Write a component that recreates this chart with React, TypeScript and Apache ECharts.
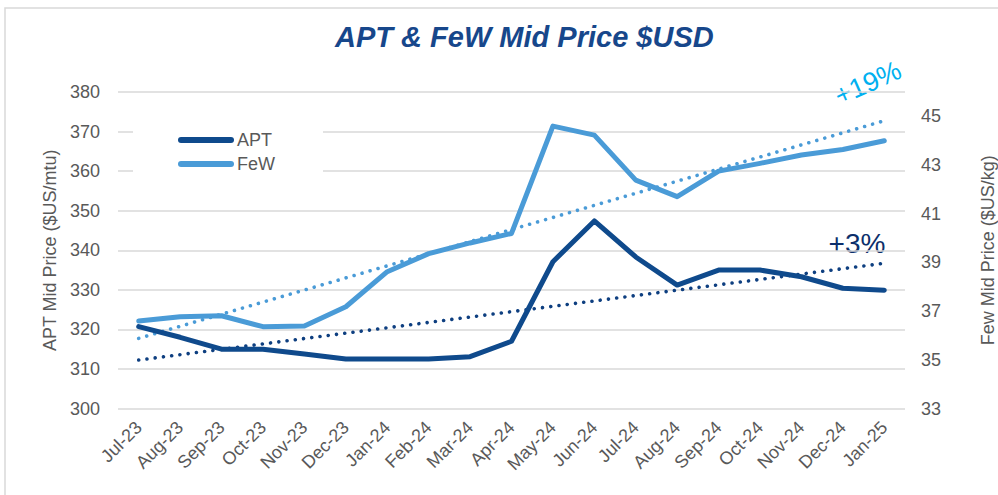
import React, { useEffect, useRef } from "react";
import * as echarts from "echarts";

const months = [
  "Jul-23", "Aug-23", "Sep-23", "Oct-23", "Nov-23", "Dec-23", "Jan-24", "Feb-24", "Mar-24", "Apr-24",
  "May-24", "Jun-24", "Jul-24", "Aug-24", "Sep-24", "Oct-24", "Nov-24", "Dec-24", "Jan-25",
];
const aptValues = [
  320.7, 318.0, 315.0, 315.0, 313.8, 312.5, 312.5, 312.5, 313.1, 317.0,
  337.1, 347.4, 338.3, 331.2, 335.0, 335.0, 333.3, 330.4, 329.9,
];
const fewValues = [
  36.59, 36.77, 36.81, 36.36, 36.39, 37.18, 38.62, 39.36, 39.8, 40.19,
  44.6, 44.23, 42.38, 41.7, 42.75, 43.07, 43.41, 43.64, 44.0,
];
// trendline endpoints (first and last month)
const aptTrendEnds = [312.25, 336.7];
const fewTrendEnds = [35.88, 44.82];
const aptTickRange = [300, 380, 10];
const fewTickRange = [33, 46];
const annotations = ["+19%", "+3%"];

const FONT = "'Liberation Sans', Arial, sans-serif";
const GREY = "#595959";
const APT_COLOR = "#0F4A8C";
const FEW_COLOR = "#4A9BD7";

function trendData(ends: number[], n: number) {
  return Array.from({ length: n }, (_, i) => (i === 0 ? ends[0] : i === n - 1 ? ends[1] : null));
}

export default function App() {
  const ref = useRef<HTMLDivElement>(null);
  useEffect(() => {
    if (!ref.current) return;
    const chart = echarts.init(ref.current, null, { renderer: "svg" });
    const n = months.length;
    chart.setOption({
      animation: false,
      backgroundColor: "#ffffff",
      textStyle: { fontFamily: FONT },
      title: {
        text: "APT & FeW Mid Price $USD",
        left: 330,
        top: 17,
        textStyle: { fontSize: 29, fontWeight: "bold", fontStyle: "italic", color: "#17478B", fontFamily: FONT },
      },
      legend: {
        data: ["APT", "FeW"],
        orient: "vertical",
        left: 133,
        top: 121,
        padding: [10, 48, 10, 45],
        backgroundColor: "#ffffff",
        itemWidth: 56,
        itemHeight: 6,
        itemGap: 6,
        icon: "path://M3,0H53A3,3,0,0,1,53,6H3A3,3,0,0,1,3,0Z",
        textStyle: { fontSize: 18, color: GREY, fontFamily: FONT, padding: [0, 0, 0, -2] },
      },
      grid: { left: 118, right: 93, top: 92, bottom: 86.5, outerBoundsMode: "none", containLabel: false },
      xAxis: {
        type: "category",
        data: months,
        boundaryGap: true,
        axisLine: { show: false },
        axisTick: { show: false },
        axisLabel: { rotate: 45, fontSize: 18, color: GREY, margin: 16, interval: 0, fontFamily: FONT },
      },
      yAxis: [
        {
          type: "value",
          min: aptTickRange[0],
          max: aptTickRange[1],
          interval: aptTickRange[2],
          axisLine: { show: false },
          axisTick: { show: false },
          axisLabel: { fontSize: 18, color: GREY, margin: 18, fontFamily: FONT },
          splitLine: { lineStyle: { color: "#D9D9D9", width: 1.5 } },
          name: "APT Mid Price ($US/mtu)",
          nameLocation: "middle",
          nameRotate: 90,
          nameGap: 52,
          nameTextStyle: { fontSize: 18, color: GREY, fontFamily: FONT },
        },
        {
          type: "value",
          min: fewTickRange[0],
          max: fewTickRange[1],
          interval: 1,
          position: "right",
          axisLine: { show: false },
          axisTick: { show: false },
          splitLine: { show: false },
          axisLabel: {
            fontSize: 18,
            color: GREY,
            margin: 16,
            fontFamily: FONT,
            formatter: (v: number) =>
              (Math.round(v) - fewTickRange[0]) % 2 === 0 && v < fewTickRange[1] ? String(Math.round(v)) : "",
          },
          name: "Few Mid Price ($US/kg)",
          nameLocation: "middle",
          nameRotate: 90,
          nameGap: 74,
          nameTextStyle: { fontSize: 18, color: GREY, fontFamily: FONT },
        },
      ],
      series: [
        {
          name: "APT trend",
          type: "line",
          yAxisIndex: 0,
          data: trendData(aptTrendEnds, n),
          connectNulls: true,
          symbol: "none",
          silent: true,
          lineStyle: { color: "#0E3F80", width: 3.6, type: [0.01, 8.3], cap: "round" },
          z: 1,
        },
        {
          name: "FeW trend",
          type: "line",
          yAxisIndex: 1,
          data: trendData(fewTrendEnds, n),
          connectNulls: true,
          symbol: "none",
          silent: true,
          lineStyle: { color: FEW_COLOR, width: 3.6, type: [0.01, 8.3], cap: "round" },
          z: 1,
        },
        {
          name: "APT",
          type: "line",
          yAxisIndex: 0,
          data: aptValues,
          symbol: "none",
          color: APT_COLOR,
          lineStyle: { color: APT_COLOR, width: 5, cap: "round", join: "round" },
          z: 3,
        },
        {
          name: "FeW",
          type: "line",
          yAxisIndex: 1,
          data: fewValues,
          symbol: "none",
          color: FEW_COLOR,
          lineStyle: { color: FEW_COLOR, width: 5, cap: "round", join: "round" },
          z: 2,
        },
      ],
      graphic: [
        {
          type: "rect",
          shape: { x: 5, y: 8, width: 1010, height: 510 },
          style: { fill: "none", stroke: "#D9D9D9", lineWidth: 1.5 },
          silent: true,
        },
        {
          type: "text",
          x: 868,
          y: 83,
          rotation: (24 * Math.PI) / 180,
          style: {
            text: annotations[0],
            fontSize: 27,
            fill: "#00B0F0",
            fontFamily: FONT,
            align: "center",
            verticalAlign: "middle",
          },
        },
        {
          type: "text",
          x: 857,
          y: 243,
          style: {
            text: annotations[1],
            fontSize: 28,
            fill: "#0C2F6B",
            fontFamily: FONT,
            align: "center",
            verticalAlign: "middle",
          },
        },
      ],
    });
    return () => chart.dispose();
  }, []);
  return <div ref={ref} style={{ position: "absolute", left: 0, top: 0, width: 998, height: 495 }} />;
}
